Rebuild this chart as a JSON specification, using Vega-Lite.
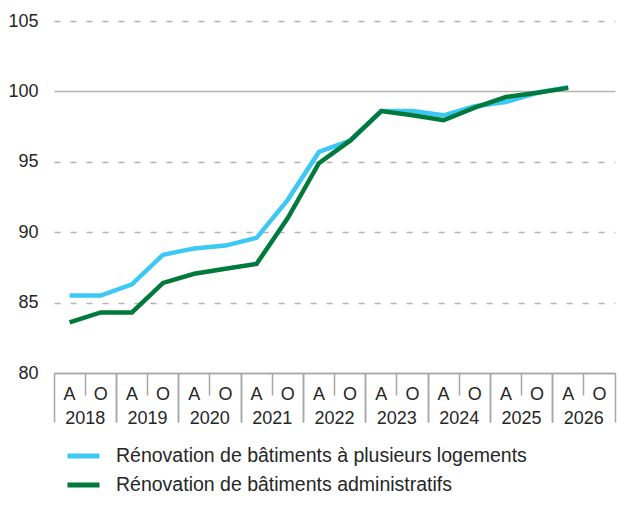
{
  "$schema": "https://vega.github.io/schema/vega-lite/v6.json",
  "width": 561,
  "height": 352,
  "autosize": "none",
  "padding": {"left": 54, "top": 21, "right": 9, "bottom": 148},
  "config": {
    "font": "Liberation Sans",
    "view": {"stroke": null},
    "axis": {"labelFont": "Liberation Sans", "labelColor": "#262626", "labelFontSize": 18, "titleFont": "Liberation Sans"},
    "legend": {"labelFont": "Liberation Sans"}
  },
  "layer": [
    {
      "data": {
        "values": [
          {"period": "2018-A", "series": "Rénovation de bâtiments à plusieurs logements", "value": 85.5},
          {"period": "2018-O", "series": "Rénovation de bâtiments à plusieurs logements", "value": 85.5},
          {"period": "2019-A", "series": "Rénovation de bâtiments à plusieurs logements", "value": 86.3},
          {"period": "2019-O", "series": "Rénovation de bâtiments à plusieurs logements", "value": 88.4},
          {"period": "2020-A", "series": "Rénovation de bâtiments à plusieurs logements", "value": 88.85},
          {"period": "2020-O", "series": "Rénovation de bâtiments à plusieurs logements", "value": 89.05},
          {"period": "2021-A", "series": "Rénovation de bâtiments à plusieurs logements", "value": 89.6},
          {"period": "2021-O", "series": "Rénovation de bâtiments à plusieurs logements", "value": 92.3},
          {"period": "2022-A", "series": "Rénovation de bâtiments à plusieurs logements", "value": 95.7},
          {"period": "2022-O", "series": "Rénovation de bâtiments à plusieurs logements", "value": 96.5},
          {"period": "2023-A", "series": "Rénovation de bâtiments à plusieurs logements", "value": 98.6},
          {"period": "2023-O", "series": "Rénovation de bâtiments à plusieurs logements", "value": 98.6},
          {"period": "2024-A", "series": "Rénovation de bâtiments à plusieurs logements", "value": 98.3},
          {"period": "2024-O", "series": "Rénovation de bâtiments à plusieurs logements", "value": 98.95},
          {"period": "2025-A", "series": "Rénovation de bâtiments à plusieurs logements", "value": 99.25},
          {"period": "2025-O", "series": "Rénovation de bâtiments à plusieurs logements", "value": 99.9},
          {"period": "2026-A", "series": "Rénovation de bâtiments à plusieurs logements", "value": 100.3},
          {"period": "2018-A", "series": "Rénovation de bâtiments administratifs", "value": 83.6},
          {"period": "2018-O", "series": "Rénovation de bâtiments administratifs", "value": 84.3},
          {"period": "2019-A", "series": "Rénovation de bâtiments administratifs", "value": 84.3},
          {"period": "2019-O", "series": "Rénovation de bâtiments administratifs", "value": 86.4},
          {"period": "2020-A", "series": "Rénovation de bâtiments administratifs", "value": 87.05},
          {"period": "2020-O", "series": "Rénovation de bâtiments administratifs", "value": 87.4},
          {"period": "2021-A", "series": "Rénovation de bâtiments administratifs", "value": 87.75},
          {"period": "2021-O", "series": "Rénovation de bâtiments administratifs", "value": 91.0},
          {"period": "2022-A", "series": "Rénovation de bâtiments administratifs", "value": 94.9},
          {"period": "2022-O", "series": "Rénovation de bâtiments administratifs", "value": 96.5},
          {"period": "2023-A", "series": "Rénovation de bâtiments administratifs", "value": 98.6},
          {"period": "2023-O", "series": "Rénovation de bâtiments administratifs", "value": 98.3},
          {"period": "2024-A", "series": "Rénovation de bâtiments administratifs", "value": 97.95},
          {"period": "2024-O", "series": "Rénovation de bâtiments administratifs", "value": 98.85},
          {"period": "2025-A", "series": "Rénovation de bâtiments administratifs", "value": 99.6},
          {"period": "2025-O", "series": "Rénovation de bâtiments administratifs", "value": 99.9},
          {"period": "2026-A", "series": "Rénovation de bâtiments administratifs", "value": 100.25}
        ]
      },
      "mark": {"type": "line", "strokeWidth": 4.5, "strokeJoin": "miter"},
      "encoding": {
        "x": {
          "field": "period",
          "type": "ordinal",
          "scale": {
            "type": "band",
            "paddingInner": 0,
            "paddingOuter": 0,
            "domain": ["2018-A", "2018-O", "2019-A", "2019-O", "2020-A", "2020-O", "2021-A", "2021-O", "2022-A", "2022-O", "2023-A", "2023-O", "2024-A", "2024-O", "2025-A", "2025-O", "2026-A", "2026-O"]
          },
          "axis": {
            "title": null,
            "orient": "bottom",
            "labelAngle": 0,
            "labelExpr": "split(datum.value, '-')[1]",
            "bandPosition": 0,
            "domainColor": "#a6a6a6",
            "domainWidth": 1.5,
            "tickColor": "#a6a6a6",
            "tickWidth": 1.5,
            "tickSize": {"condition": {"test": "indexof(datum.value, '-A') >= 0", "value": 49}, "value": 22},
            "labelPadding": {"condition": {"test": "indexof(datum.value, '-A') >= 0", "value": -28}, "value": -1},
            "labelBaseline": "middle",
            "grid": false
          }
        },
        "y": {
          "field": "value",
          "type": "quantitative",
          "scale": {"domain": [80, 105], "nice": false, "zero": false},
          "axis": {
            "title": null,
            "values": [80, 85, 90, 95, 100, 105],
            "domain": false,
            "ticks": false,
            "labelPadding": 16,
            "grid": true,
            "gridColor": "#b3b3b3",
            "gridWidth": 1.5,
            "gridDash": {"condition": {"test": "datum.value == 100 || datum.value == 80", "value": []}, "value": [6, 10]}
          }
        },
        "color": {
          "field": "series",
          "type": "nominal",
          "scale": {
            "domain": ["Rénovation de bâtiments à plusieurs logements", "Rénovation de bâtiments administratifs"],
            "range": ["#3cc8f5", "#007a3c"]
          },
          "legend": {
            "title": null,
            "orient": "none",
            "legendX": 11,
            "legendY": 416.5,
            "symbolType": "stroke",
            "symbolStrokeWidth": 5,
            "symbolSize": 1024,
            "labelFontSize": 19.5,
            "labelColor": "#262626",
            "labelOffset": 14,
            "labelLimit": 0,
            "rowPadding": -8
          }
        }
      }
    },
    {
      "data": {"values": [{"year": "2018"}, {"year": "2019"}, {"year": "2020"}, {"year": "2021"}, {"year": "2022"}, {"year": "2023"}, {"year": "2024"}, {"year": "2025"}, {"year": "2026"}]},
      "mark": {"type": "point", "opacity": 0},
      "encoding": {
        "x": {
          "field": "year",
          "type": "ordinal",
          "scale": {"type": "band", "paddingInner": 0, "paddingOuter": 0},
          "axis": {
            "title": null,
            "orient": "bottom",
            "labelAngle": 0,
            "bandPosition": 1,
            "domain": false,
            "tickColor": "#a6a6a6",
            "tickWidth": 1.5,
            "tickSize": 49,
            "labelPadding": -4,
            "labelBaseline": "middle",
            "grid": false
          }
        }
      }
    }
  ],
  "resolve": {"scale": {"x": "independent"}}
}
